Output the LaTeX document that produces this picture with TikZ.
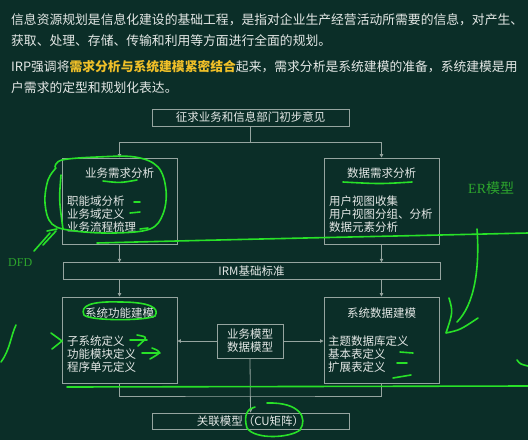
\documentclass[tikz,border=0pt]{standalone}
\usepackage{fontspec}
\setmainfont{Noto Sans CJK SC}
\newfontfamily\serifen{Liberation Serif}
\usetikzlibrary{arrows.meta}
\definecolor{bg}{RGB}{11,46,40}
\definecolor{txt}{RGB}{228,232,230}
\definecolor{boxline}{RGB}{150,165,160}
\definecolor{hl}{RGB}{240,192,40}
\definecolor{pen}{RGB}{40,225,40}
\definecolor{pentext}{RGB}{45,165,45}
\begin{document}
\begin{tikzpicture}[x=1pt,y=-1pt,
  box/.style={draw=boxline,line width=0.9pt,inner sep=0pt,text=txt,font=\fontsize{11.5}{13}\selectfont},
  lbl/.style={inner sep=0pt,text=txt,font=\fontsize{11.5}{13.5}\selectfont},
  item/.style={lbl,anchor=west},
  conn/.style={draw=boxline,line width=0.8pt},
  arr/.style={conn,-{Triangle[length=3.5pt,width=3.5pt]}},
  ink/.style={draw=pen,line width=1.6pt,line cap=round,line join=round},
  para/.style={anchor=west,inner sep=0pt,text=txt,font=\fontsize{12.8}{14}\selectfont}]
\fill[bg] (0,0) rectangle (528,440);
\useasboundingbox (0,0) rectangle (528,440);

% paragraph text
\node[para] (p1) at (11,20) {信息资源规划是信息化建设的基础工程，是指对企业生产经营活动所需要的信息，对产生、};
\node[para] (p2) at (11,41) {获取、处理、存储、传输和利用等方面进行全面的规划。};
\node[para] (p3) at (11,67) {IRP强调将\textcolor{hl}{\bfseries 需求分析与系统建模紧密结合}起来，需求分析是系统建模的准备，系统建模是用};
\node[para] (p4) at (11,88) {户需求的定型和规划化表达。};

% boxes
\node[box,minimum width=197,minimum height=17] (top) at (250.5,117.5) {征求业务和信息部门初步意见};
\node[box,minimum width=115,minimum height=86] (b1) at (119.5,201) {};
\node[box,minimum width=115,minimum height=86] (b2) at (381.5,201) {};
\node[box,minimum width=377,minimum height=16.5] (irm) at (251.5,271) {IRM基础标准};
\node[box,minimum width=115,minimum height=86] (b3) at (119.5,340) {};
\node[box,minimum width=115,minimum height=86] (b4) at (381.5,340) {};
\node[box,minimum width=66,minimum height=34,align=center] (mid) at (250,341) {业务模型\\数据模型};
\node[box,minimum width=197,minimum height=16] (cu) at (250.5,421) {关联模型（CU矩阵）};

% box contents
\node[lbl] (t1) at (119.5,173) {业务需求分析};
\node[item] (i11) at (67,201.5) {职能域分析};
\node[item] (i12) at (67,214.5) {业务域定义};
\node[item] (i13) at (67,227.5) {业务流程梳理};
\node[lbl] (t2) at (381.5,173) {数据需求分析};
\node[item] (i21) at (329,201.5) {用户视图收集};
\node[item] (i22) at (329,214.5) {用户视图分组、分析};
\node[item] (i23) at (329,227.5) {数据元素分析};
\node[lbl] (t3) at (119.5,313) {系统功能建模};
\node[item] (i31) at (67,341) {子系统定义};
\node[item] (i32) at (67,354) {功能模块定义};
\node[item] (i33) at (67,367) {程序单元定义};
\node[lbl] (t4) at (381.5,313) {系统数据建模};
\node[item] (i41) at (328,341) {主题数据库定义};
\node[item] (i42) at (328,354) {基本表定义};
\node[item] (i43) at (328,367) {扩展表定义};

% connectors
\draw[conn] (top.south) -- (250.5,142) coordinate (j1);
\draw[arr] (j1) -| (b1.north);
\draw[arr] (j1) -| (b2.north);
\draw[arr] (b1.south) -- (b1.south |- irm.north);
\draw[arr] (b2.south) -- (b2.south |- irm.north);
\draw[arr] (b1.south |- irm.south) -- (b3.north);
\draw[arr] (b2.south |- irm.south) -- (b4.north);
\draw[arr] (mid.west) -- (b3.east |- mid.west);
\draw[arr] (mid.east) -- (b4.west |- mid.east);
\coordinate (br) at (250,396);
\draw[conn] (b3.south) |- (br) -| (b4.south);
\draw[arr] (mid.south) -- (cu.north);

% hand-drawn annotations
\node[inner sep=0pt,text=pentext,font=\serifen\fontsize{12}{12}\selectfont,anchor=west] (dfd) at (8,263) {DFD};
\node[inner sep=0pt,text=pentext,font=\fontsize{14}{14}\selectfont,anchor=west] (er) at (468,188) {{\serifen ER}模型};

\draw[ink] plot[smooth,tension=0.6] coordinates {(55,167) (62,160) (97,157) (135,157) (158,167) (166,190) (163,214) (150,229) (115,233) (75,231) (52,224) (45,203) (48,180) (56,168)};
\draw[ink] (61,175) .. controls (59,200) .. (63,229);
\draw[ink] (34,251) -- (50,233);
\draw[ink] (43,245) -- (56,231);
\draw[ink] (47,231) -- (57,229);
\draw[ink] (103,181) .. controls (120,183) .. (137,180);
\draw[ink] (134,202) -- (140,202);
\draw[ink] (130,213) -- (140,212);
\draw[ink] (140,229) -- (148,228);
\draw[ink] (343,182) .. controls (380,184) .. (412,182);

\draw[ink] (97,243) .. controls (250,239) and (400,236) .. (528,233);
\draw[ink] (477,229) .. controls (480,270) and (474,305) .. (457,322);
\draw[ink] (449,298) .. controls (453,312) .. (446,333) .. controls (460,330) .. (478,318);

\draw[ink] (120,302) .. controls (90,301) and (80,306) .. (84,315) .. controls (90,321) and (145,321) .. (155,316) .. controls (160,308) and (150,302) .. (120,302);
\draw[ink] (16,325) .. controls (11,335) and (10,350) .. (1,362);
\draw[ink] (51,333) -- (62,341) -- (52,349);
\draw[ink] (130,340) -- (147,340);
\draw[ink] (137,335) .. controls (148,337) .. (138,346);
\draw[ink] (142,353) -- (160,353);
\draw[ink] (152,348) .. controls (162,352) .. (150,359);
\draw[ink] (400,352) -- (413,353);
\draw[ink] (397,363) -- (407,363);
\draw[ink] (393,378) -- (411,375);
\draw[ink] (517,360) .. controls (520,364) .. (528,366);

\draw[ink] (67,387) -- (528,386);
\draw[ink] (267,403) .. controls (300,402) and (308,418) .. (300,430) .. controls (290,438) and (255,440) .. (247,428) .. controls (243,415) and (248,408) .. (255,407);
\end{tikzpicture}
\end{document}
